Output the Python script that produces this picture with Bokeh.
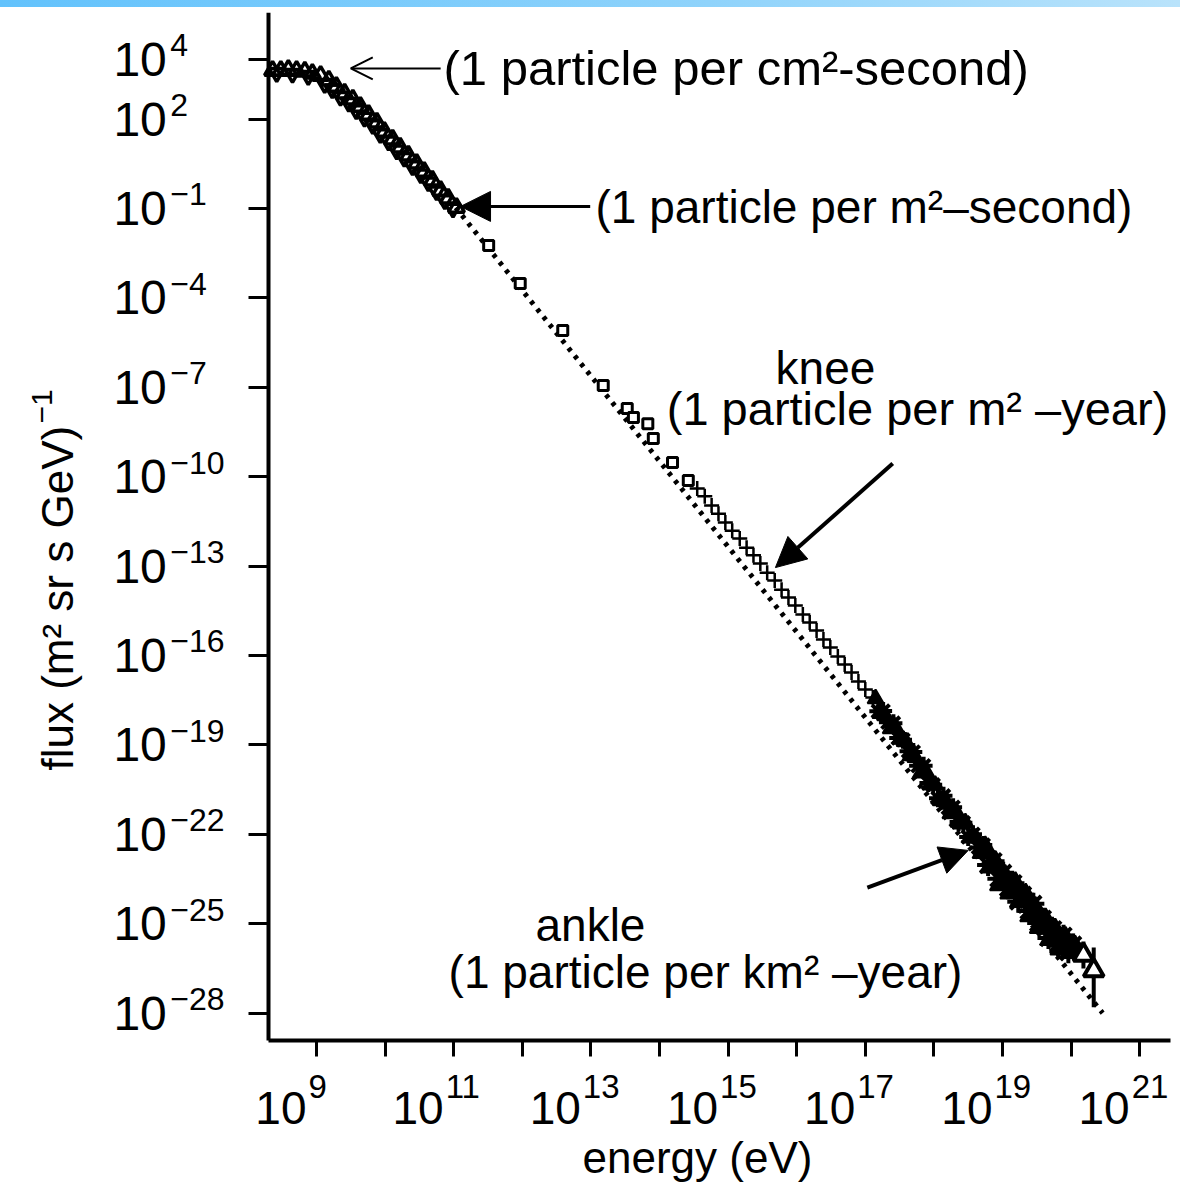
import math
from bokeh.plotting import figure
from bokeh.models import (FixedTicker, CustomJSTickFormatter, Arrow, NormalHead,
                          OpenHead, Label, Div, Range1d, LogAxis)
from bokeh.layouts import column
from bokeh.embed import file_html
from bokeh.resources import INLINE

# ---------------- data (log10 of energy in eV, log10 of flux) ----------------
# low-energy triangles (two overlapping rows)
tri_log_e = [8.36, 8.48, 8.59, 8.71, 8.83, 8.94, 9.06, 9.18, 9.29, 9.41, 9.53, 9.64,
             9.76, 9.88, 9.99, 10.11, 10.22, 10.34, 10.46, 10.57, 10.69, 10.81, 10.92, 11.04]
tri_log_f = [3.63, 3.63, 3.66, 3.63, 3.60, 3.53, 3.46, 3.30, 3.09, 2.86, 2.66, 2.42,
             2.15, 1.89, 1.58, 1.32, 1.05, 0.78, 0.51, 0.24, -0.06, -0.40, -0.66, -0.97]
tri2_log_e = [8.42, 8.65, 8.88, 9.12, 9.23, 9.35, 9.47, 9.58, 9.70, 9.82, 9.93, 10.05,
              10.17, 10.28, 10.40, 10.52, 10.63, 10.75, 10.87, 10.99]
tri2_log_f = [3.55, 3.52, 3.45, 3.18, 3.00, 2.75, 2.55, 2.30, 2.05, 1.80, 1.50, 1.25,
              0.95, 0.70, 0.42, 0.15, -0.12, -0.42, -0.72, -1.00]

# small open squares (direct measurements)
sq_log_e = [11.51, 11.97, 12.59, 13.18, 13.53, 13.62, 13.83, 13.91, 14.19, 14.42]
sq_log_f = [-2.24, -3.52, -5.09, -6.94, -7.71, -8.01, -8.22, -8.72, -9.52, -10.13]

# crosses (air-shower data around the knee)
cr_log_e = [14.55, 14.66, 14.76, 14.86, 14.96, 15.06, 15.17, 15.27, 15.37, 15.47, 15.57,
            15.68, 15.78, 15.88, 15.98, 16.09, 16.19, 16.29, 16.39, 16.49, 16.60, 16.70,
            16.80, 16.90, 17.00, 17.11]
cr_log_f = [-10.40, -10.66, -10.97, -11.24, -11.54, -11.81, -12.07, -12.38, -12.64, -12.91,
            -13.22, -13.48, -13.79, -14.05, -14.32, -14.62, -14.89, -15.16, -15.46, -15.73,
            -16.03, -16.30, -16.57, -16.87, -17.14, -17.41]

# dense ultra-high-energy band (two overlapping marker sets)
uh1_log_e = [17.15, 17.22, 17.29, 17.37, 17.44, 17.51, 17.59, 17.66, 17.73, 17.81, 17.88,
             17.95, 18.02, 18.10, 18.17, 18.24, 18.32, 18.39, 18.46, 18.53, 18.61, 18.68,
             18.75, 18.83, 18.90, 18.97, 19.04, 19.12, 19.19, 19.26, 19.34, 19.41, 19.48,
             19.55, 19.63, 19.70, 19.77, 19.85, 19.92, 19.99, 20.06]
uh1_log_f = [-17.45, -17.94, -18.02, -18.45, -18.41, -18.81, -18.89, -19.36, -19.42, -19.94,
             -19.88, -20.34, -20.35, -20.87, -20.87, -21.31, -21.23, -21.65, -21.61, -22.12,
             -22.12, -22.64, -22.47, -23.08, -22.97, -23.67, -23.43, -23.95, -23.67, -24.24,
             -24.06, -24.71, -24.50, -25.11, -24.89, -25.51, -25.23, -25.83, -25.51, -25.95,
             -25.80]
uh2_log_e = [17.19, 17.26, 17.33, 17.41, 17.48, 17.55, 17.63, 17.70, 17.77, 17.85, 17.92,
             17.99, 18.06, 18.14, 18.21, 18.28, 18.36, 18.43, 18.50, 18.57, 18.65, 18.72,
             18.79, 18.87, 18.94, 19.01, 19.08, 19.16, 19.23, 19.30, 19.38, 19.45, 19.52,
             19.59, 19.67, 19.74, 19.81, 19.89, 19.96, 20.03]
uh2_log_f = [-17.87, -17.86, -18.24, -18.27, -18.77, -18.83, -19.21, -19.24, -19.70, -19.70,
             -20.28, -20.34, -20.79, -20.71, -21.11, -21.09, -21.59, -21.61, -22.09, -22.00,
             -22.44, -22.36, -23.03, -22.90, -23.49, -23.29, -23.81, -23.64, -24.26, -24.03,
             -24.57, -24.33, -24.98, -24.83, -25.48, -25.18, -25.74, -25.40, -25.96, -25.70]

# highest-energy points with error bars
top_log_e = [20.18, 20.33]
top_log_f = [-26.05, -26.57]
top_err_lo = [-26.50, -27.80]
top_err_hi = [-25.60, -25.80]

# dotted power-law curve
fit_log_e = [11.03, 12.0, 13.0, 14.0, 15.0, 16.0, 17.0, 18.0, 19.0, 20.0, 20.46]
fit_log_f = [-0.97, -3.75, -6.62, -9.48, -12.35, -15.21, -18.08, -20.95, -23.81, -26.68, -28.00]

# axis ticks (exponents)
x_tick_exp = list(range(9, 22))
x_label_exp = [9, 11, 13, 15, 17, 19, 21]
y_tick_exp = [4, 2, -1, -4, -7, -10, -13, -16, -19, -22, -25, -28]

# axis extent (exponents) of the drawn axes
x_axis_span = (8.30, 21.45)
y_axis_span = (-28.92, 5.577)


def pw(v):
    return [10.0 ** a for a in v]


FONT = "'Liberation Sans', Arial, sans-serif"

p = figure(width=1180, height=1180, x_axis_type="log", y_axis_type="log",
           x_axis_location=None, y_axis_location=None,
           x_range=Range1d(10 ** 4.394, 10 ** 21.522), y_range=Range1d(10 ** -33.852, 10 ** 5.577),
           output_backend="svg", toolbar_location=None,
           min_border_left=0, min_border_right=5, min_border_top=5, min_border_bottom=0)
p.outline_line_color = None
p.xgrid.grid_line_color = None
p.ygrid.grid_line_color = None
p.background_fill_color = "white"
p.border_fill_color = "white"


def make_axis(ticks_exp, span, fixed_exp, tick_len):
    ax = LogAxis(ticker=FixedTicker(ticks=pw(ticks_exp)),
                 formatter=CustomJSTickFormatter(code="return '';"),
                 bounds=(10 ** span[0], 10 ** span[1]),
                 fixed_location=10 ** fixed_exp)
    ax.axis_line_width = 4
    ax.axis_line_color = "black"
    ax.major_tick_line_width = 3
    ax.major_tick_line_color = "black"
    ax.major_tick_in = tick_len
    ax.major_tick_out = 0
    ax.minor_tick_in = 0
    ax.minor_tick_out = 0
    ax.minor_tick_line_color = None
    ax.major_label_text_font_size = "0px"
    ax.major_label_standoff = 0
    return ax


# energy axis, drawn at the bottom of the data region, ticks pointing down
p.add_layout(make_axis(x_tick_exp, x_axis_span, y_axis_span[0], 16), "above")
# flux axis, drawn at the left of the data region, ticks pointing left
p.add_layout(make_axis(y_tick_exp, y_axis_span, x_axis_span[0], 20), "right")

# dotted curve
p.line(pw(fit_log_e), pw(fit_log_f), line_color="black", line_width=5, line_dash="4 6")

# markers
p.scatter(pw(tri_log_e), pw(tri_log_f), marker="triangle", size=16, fill_alpha=0.0,
          line_color="black", line_width=3.5)
p.scatter(pw(tri2_log_e), pw(tri2_log_f), marker="inverted_triangle", size=15,
          fill_alpha=0.0, line_color="black", line_width=3.5)
p.scatter(pw(sq_log_e), pw(sq_log_f), marker="square", size=10, fill_color="white",
          line_color="black", line_width=3)
p.scatter(pw(cr_log_e), pw(cr_log_f), marker="cross", size=15, line_color="black",
          line_width=2.5)

split = 22  # markers grow larger past the ankle
p.scatter(pw(uh1_log_e[:split]), pw(uh1_log_f[:split]), marker="triangle", size=16,
          fill_color="black", line_color="black", line_width=2)
p.scatter(pw(uh1_log_e[split:]), pw(uh1_log_f[split:]), marker="triangle", size=21,
          fill_color="black", line_color="black", line_width=2)
p.scatter(pw(uh2_log_e[:split]), pw(uh2_log_f[:split]), marker="asterisk", size=18,
          line_color="black", line_width=4)
p.scatter(pw(uh2_log_e[split:]), pw(uh2_log_f[split:]), marker="asterisk", size=22,
          line_color="black", line_width=4)
p.segment(pw(top_log_e), pw(top_err_lo), pw(top_log_e), pw(top_err_hi),
          line_color="black", line_width=4)
p.scatter(pw(top_log_e), pw(top_log_f), marker="triangle", size=20, fill_color="white",
          line_color="black", line_width=4)

# arrows
p.add_layout(Arrow(end=OpenHead(size=22, line_width=2, line_color="black"),
                   x_start=10 ** 10.81, y_start=10 ** 3.70, x_end=10 ** 9.50, y_end=10 ** 3.70,
                   line_width=2, line_color="black"))
p.add_layout(Arrow(end=NormalHead(size=30, fill_color="black", line_color="black"),
                   x_start=10 ** 12.99, y_start=10 ** -0.93, x_end=10 ** 11.10, y_end=10 ** -0.93,
                   line_width=3, line_color="black"))
p.add_layout(Arrow(end=NormalHead(size=30, fill_color="black", line_color="black"),
                   x_start=10 ** 17.40, y_start=10 ** -9.56, x_end=10 ** 15.69, y_end=10 ** -13.05,
                   line_width=4, line_color="black"))
p.add_layout(Arrow(end=NormalHead(size=28, fill_color="black", line_color="black"),
                   x_start=10 ** 17.03, y_start=10 ** -23.79, x_end=10 ** 18.50, y_end=10 ** -22.54,
                   line_width=4, line_color="black"))


def lab(txt, le, lf, align, size, angle=0.0):
    p.add_layout(Label(x=10 ** le, y=10 ** lf, text=txt, text_align=align,
                       text_baseline="middle", text_font=FONT, text_font_size=size,
                       text_color="black", angle=angle))


# tick labels: "10" with a raised exponent
for e in y_tick_exp:
    lab("10", 6.04, e, "left", "48px")
    lab(str(e).replace("-", "\u2212"), 6.87, e + 0.47, "left", "32px")
for e in x_label_exp:
    lab("10", e - 0.146, -31.168, "right", "46px")
    lab(str(e), e - 0.117, -30.463, "left", "33px")

# axis titles
lab("energy (eV)", 14.554, -32.846, "center", "44px")
lab("flux (m\u00b2 sr s GeV)", 5.224, -19.859, "left", "44px", math.pi / 2)
lab("\u22121", 5.006, -8.215, "left", "30px", math.pi / 2)

# annotations
lab("(1 particle per cm\u00b2-second)", 10.851, 3.698, "left", "49px")
lab("(1 particle per m\u00b2\u2013second)", 13.067, -0.933, "left", "46px")
lab("knee", 16.420, -6.336, "center", "46px")
lab("(1 particle per m\u00b2 \u2013year)", 17.761, -7.711, "center", "47px")
lab("ankle", 12.994, -25.060, "center", "46px")
lab("(1 particle per km\u00b2 \u2013year)", 14.671, -26.604, "center", "46px")

bar = Div(text="", width=1180, height=7, margin=0,
          styles={"background": "linear-gradient(to right, #62c2fc, #8fd3fb 60%, #b9e3fb)"})

layout = column(bar, p, spacing=0)
open("out.html", "w").write(file_html(layout, INLINE))
